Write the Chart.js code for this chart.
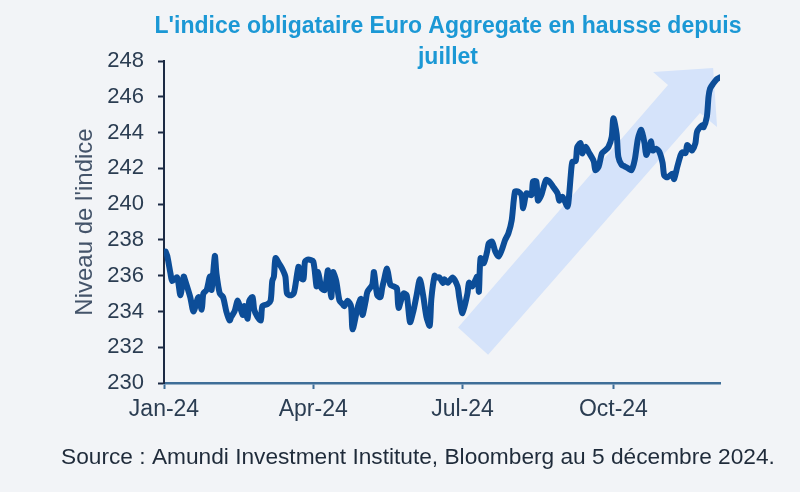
<!DOCTYPE html>
<html lang="fr">
<head>
<meta charset="utf-8">
<title>Euro Aggregate</title>
<script src="https://cdn.jsdelivr.net/npm/chart.js@4.4.1/dist/chart.umd.min.js"></script>
<style>
  html, body { margin: 0; padding: 0; background: #f2f4f7; }
  canvas { display: block; }
</style>
</head>
<body>
<canvas id="graficoIndice" width="800" height="492"></canvas>
<script>
// Données (niveau de l'indice Euro Aggregate)
const dates = [
  "2024-01-02","2024-01-03","2024-01-05","2024-01-06","2024-01-09","2024-01-11","2024-01-13","2024-01-14",
  "2024-01-17","2024-01-19","2024-01-22","2024-01-24","2024-01-25","2024-01-27","2024-01-29","2024-01-30",
  "2024-02-01","2024-02-02","2024-02-04","2024-02-06","2024-02-08","2024-02-10","2024-02-11","2024-02-13",
  "2024-02-15","2024-02-18","2024-02-19","2024-02-21","2024-02-22","2024-02-24","2024-02-25","2024-02-27",
  "2024-02-29","2024-03-01","2024-03-04","2024-03-06","2024-03-07","2024-03-08","2024-03-09","2024-03-11",
  "2024-03-13","2024-03-15","2024-03-16","2024-03-18","2024-03-20","2024-03-21","2024-03-23","2024-03-24",
  "2024-03-26","2024-03-27","2024-03-29","2024-04-01","2024-04-03","2024-04-04","2024-04-06","2024-04-08",
  "2024-04-10","2024-04-12","2024-04-13","2024-04-15","2024-04-17","2024-04-19","2024-04-20","2024-04-22",
  "2024-04-24","2024-04-25","2024-04-28","2024-04-30","2024-05-01","2024-05-03","2024-05-04","2024-05-07",
  "2024-05-08","2024-05-10","2024-05-12","2024-05-13","2024-05-14","2024-05-16","2024-05-18","2024-05-20",
  "2024-05-22","2024-05-23","2024-05-26","2024-05-28","2024-05-30","2024-06-01","2024-06-03","2024-06-05",
  "2024-06-07","2024-06-09","2024-06-11","2024-06-12","2024-06-14","2024-06-15","2024-06-17","2024-06-19",
  "2024-06-20","2024-06-22","2024-06-25","2024-06-28","2024-06-29","2024-07-01","2024-07-04","2024-07-05",
  "2024-07-07","2024-07-10","2024-07-11","2024-07-12","2024-07-14","2024-07-16","2024-07-17","2024-07-19",
  "2024-07-21","2024-07-23","2024-07-25","2024-07-27","2024-07-29","2024-07-31","2024-08-02","2024-08-04",
  "2024-08-06","2024-08-07","2024-08-09","2024-08-12","2024-08-13","2024-08-15","2024-08-16","2024-08-18",
  "2024-08-19","2024-08-21","2024-08-23","2024-08-25","2024-08-28","2024-08-29","2024-08-31","2024-09-03",
  "2024-09-04","2024-09-05","2024-09-06","2024-09-08","2024-09-09","2024-09-11","2024-09-12","2024-09-14",
  "2024-09-16","2024-09-19","2024-09-20","2024-09-22","2024-09-24","2024-09-26","2024-09-28","2024-09-30",
  "2024-10-01","2024-10-03","2024-10-04","2024-10-06","2024-10-08","2024-10-10","2024-10-12","2024-10-14",
  "2024-10-16","2024-10-18","2024-10-20","2024-10-21","2024-10-23","2024-10-24","2024-10-25","2024-10-27",
  "2024-10-29","2024-10-31","2024-11-01","2024-11-03","2024-11-06","2024-11-07","2024-11-09","2024-11-11",
  "2024-11-12","2024-11-14","2024-11-15","2024-11-17","2024-11-18","2024-11-20","2024-11-21","2024-11-24",
  "2024-11-25","2024-11-27","2024-11-28","2024-11-29","2024-12-01","2024-12-03","2024-12-05"
];

const niveaux = [
  237.35,237.1,236.1,235.7,235.9,234.9,235.95,235.7,
  234.8,234.0,234.8,234.1,235.0,235.2,235.95,235.2,
  237.1,236.1,235.0,234.8,234.0,233.5,233.7,234.0,
  234.6,233.8,234.3,233.6,234.6,234.8,234.1,233.7,
  233.5,234.3,234.4,234.6,235.7,235.95,236.98,236.7,
  236.4,235.95,235.0,234.9,235.0,235.4,236.5,235.9,
  235.8,236.8,236.9,236.8,235.4,236.2,235.3,235.2,
  236.3,234.8,236.2,235.7,234.6,234.4,234.3,234.6,
  234.3,233.0,234.2,234.7,233.8,234.6,235.1,235.5,
  236.2,234.9,234.8,235.3,235.7,236.4,235.5,235.4,
  235.3,234.2,235.0,234.9,233.4,234.0,234.9,235.8,
  234.9,233.7,233.2,234.7,236.0,235.9,235.9,235.6,
  235.8,235.6,235.9,235.4,234.8,233.9,235.0,235.6,
  235.4,235.95,235.1,236.98,236.7,237.35,237.8,237.9,
  237.35,237.07,237.45,238.0,238.37,239.1,240.7,240.7,
  240.5,239.77,240.6,240.5,241.26,241.26,240.2,240.5,
  240.8,241.35,241.26,241.0,240.6,240.2,240.4,239.86,
  240.5,241.6,242.37,242.4,243.2,243.4,242.84,243.2,
  242.9,242.4,241.9,242.1,242.84,243.0,243.2,243.77,
  244.8,243.9,242.65,242.2,242.1,242.0,241.9,242.47,
  243.68,244.15,243.4,242.75,243.2,243.5,243.0,243.1,
  242.93,242.3,241.6,241.5,241.7,241.4,242.1,242.75,
  242.9,242.85,243.3,243.1,243.0,243.4,244.05,244.4,
  244.3,244.9,246.0,246.47,246.75,246.98,247.09
];

const tickDates = ["2024-01-01", "2024-04-01", "2024-07-01", "2024-10-01"];
const tickLabels = ["Jan-24", "Apr-24", "Jul-24", "Oct-24"];
const yTicks = [230, 232, 234, 236, 238, 240, 242, 244, 246, 248];

// Flèche de tendance en coordonnées du graphique (jour de l'année, niveau)
const arrowDays = [179.3, 307.3, 298.2, 334.8, 337.2, 326.8, 197.6];
const arrowLevels = [233.1, 246.66, 247.39, 247.61, 244.31, 245.09, 231.58];

const titleLines = ["L'indice obligataire Euro Aggregate en hausse depuis", "juillet"];
const sourceText = "Source : Amundi Investment Institute, Bloomberg au 5 décembre 2024.";

const FONT = "'Liberation Sans', Arial, sans-serif";
const origin = Date.UTC(2024, 0, 1);
const dayOf = (s) => Math.round((Date.parse(s) - origin) / 86400000);

const points = dates.map((d, i) => ({ x: dayOf(d), y: niveaux[i] }));
const tickDays = tickDates.map(dayOf);

const fondPlugin = {
  id: "fond",
  beforeDraw(chart) {
    const { ctx, width, height } = chart;
    ctx.save();
    ctx.fillStyle = "#f2f4f7";
    ctx.fillRect(0, 0, width, height);
    ctx.restore();
  }
};

const flechePlugin = {
  id: "fleche",
  beforeDatasetsDraw(chart) {
    const { ctx, scales } = chart;
    ctx.save();
    ctx.beginPath();
    arrowDays.forEach((d, i) => {
      const px = scales.x.getPixelForValue(d);
      const py = scales.y.getPixelForValue(arrowLevels[i]);
      if (i === 0) ctx.moveTo(px, py); else ctx.lineTo(px, py);
    });
    ctx.closePath();
    ctx.fillStyle = "#d5e3fa";
    ctx.fill();
    ctx.restore();
  }
};

const textesPlugin = {
  id: "textes",
  afterDraw(chart) {
    const { ctx } = chart;
    ctx.save();
    ctx.textAlign = "center";
    ctx.textBaseline = "alphabetic";
    ctx.fillStyle = "#1b98d5";
    ctx.font = "bold 23px " + FONT;
    ctx.fillText(titleLines[0], 448, 33);
    ctx.fillText(titleLines[1], 448, 64);
    ctx.fillStyle = "#1f2b3a";
    ctx.font = "22.7px " + FONT;
    ctx.fillText(sourceText, 418, 464);
    ctx.restore();
  }
};

const ctx = document.getElementById("graficoIndice").getContext("2d");

new Chart(ctx, {
  type: "line",
  data: {
    datasets: [{
      label: "Euro Aggregate",
      data: points,
      borderColor: "#0c4d98",
      borderWidth: 6,
      pointRadius: 0,
      tension: 0.25,
      borderCapStyle: "round",
      borderJoinStyle: "round",
      fill: false
    }]
  },
  options: {
    responsive: false,
    animation: false,
    devicePixelRatio: 1,
    layout: { padding: { left: 0, right: 80, top: 61, bottom: 0 } },
    plugins: {
      legend: { display: false },
      tooltip: { enabled: false },
      title: { display: false }
    },
    scales: {
      x: {
        type: "linear",
        min: 0,
        max: dayOf(dates[dates.length - 1]),
        afterBuildTicks: (scale) => { scale.ticks = tickDays.map((v) => ({ value: v })); },
        afterFit: (scale) => { scale.height = 109; },
        ticks: {
          autoSkip: false,
          maxRotation: 0,
          padding: 7,
          color: "#2b3d52",
          font: { family: FONT, size: 23 },
          callback: (v) => tickLabels[tickDays.indexOf(v)]
        },
        grid: { drawOnChartArea: false, drawTicks: true, tickLength: 6, tickColor: "#3f6e98", tickWidth: 2 },
        border: { display: true, color: "#3f6e98", width: 2.5 }
      },
      y: {
        min: 230,
        max: 248,
        afterBuildTicks: (scale) => { scale.ticks = yTicks.map((v) => ({ value: v })); },
        afterFit: (scale) => { scale.width = 164; },
        ticks: {
          padding: 14,
          color: "#2b3d52",
          font: { family: FONT, size: 22 }
        },
        grid: { drawOnChartArea: false, drawTicks: true, tickLength: 6, tickColor: "#1c2a44", tickWidth: 2 },
        border: { display: true, color: "#1c2a44", width: 2 },
        title: {
          display: true,
          text: "Niveau de l'indice",
          color: "#44546a",
          font: { family: FONT, size: 24 },
          padding: { top: 71, bottom: 0 }
        }
      }
    }
  },
  plugins: [fondPlugin, flechePlugin, textesPlugin]
});
</script>
</body>
</html>
